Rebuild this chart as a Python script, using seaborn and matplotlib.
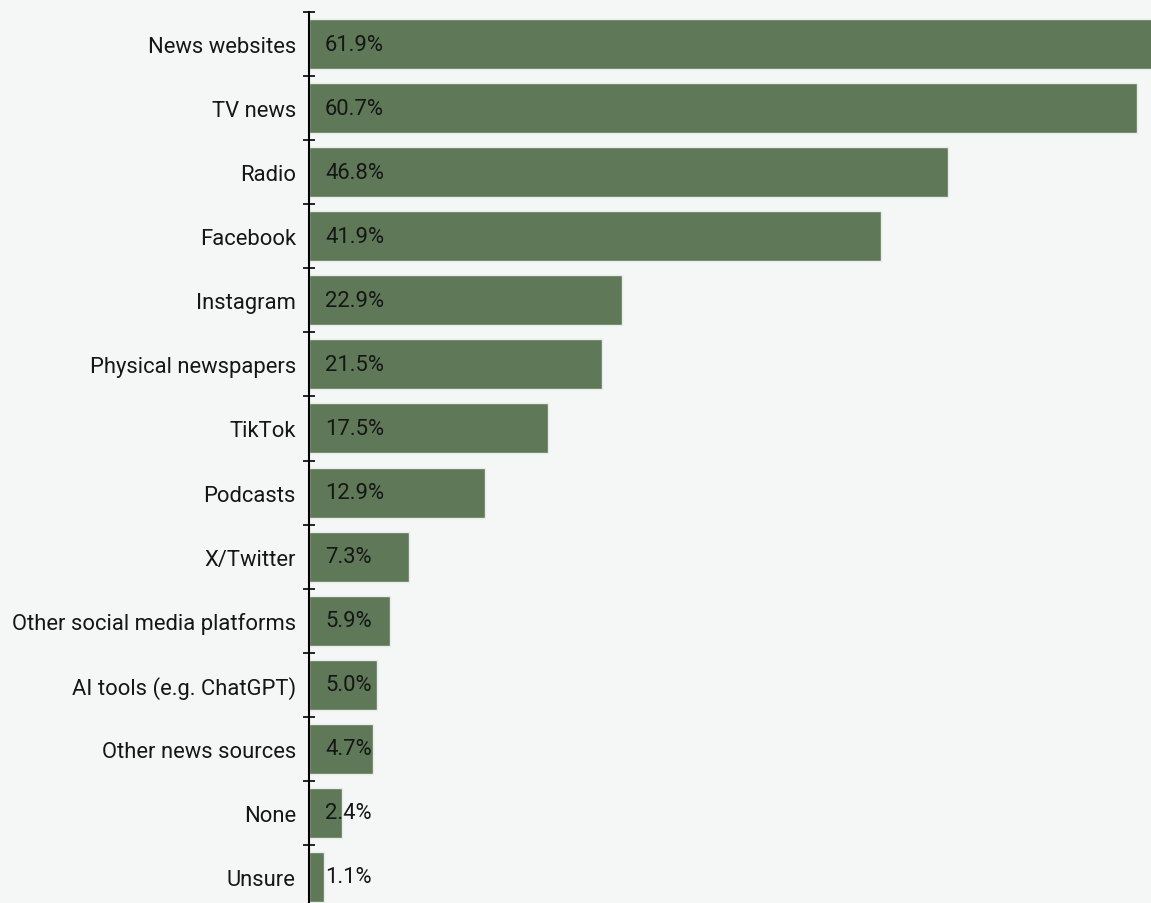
import numpy as np
import pandas as pd
import matplotlib.pyplot as plt
import seaborn as sns

# ========== Data ==========
sources = ["News websites", "TV news", "Radio", "Facebook", "Instagram",
           "Physical newspapers", "TikTok", "Podcasts", "X/Twitter",
           "Other social media platforms", "AI tools (e.g. ChatGPT)",
           "Other news sources", "None", "Unsure"]
shares = [61.9, 60.7, 46.8, 41.9, 22.9, 21.5, 17.5, 12.9, 7.3, 5.9, 5.0, 4.7, 2.4, 1.1]

df = pd.DataFrame({"source": sources, "share": shares})

# ========== Style ==========
bg = "#f5f7f6"
bar_color = "#5e7858"
sns.set_theme(style="white")
plt.rcParams['font.family'] = ['Roboto', 'DejaVu Sans']

fig = plt.figure(figsize=(11.51, 9.04), dpi=100, facecolor=bg)
ax = fig.add_axes([309 / 1151, 0.0, 1 - 309 / 1151, 1 - 13 / 904])
ax.set_facecolor(bg)

sns.barplot(data=df, x="share", y="source", orient="h", color=bar_color,
            saturation=1, width=0.78, edgecolor="#e6ece6", linewidth=1, ax=ax)

# value labels just inside the bar base
for i, v in enumerate(df["share"]):
    ax.annotate(f"{v:.1f}%", xy=(0, i), xytext=(11.5, 0), textcoords="offset points",
                ha="left", va="center", fontsize=15.8, color="#161616")

ax.set_xlim(0, 61.7)
ax.set_ylim(len(sources) - 0.5 - 6 / 64, -0.5)

# labels at band centres, tick marks at band boundaries
ax.set_yticks(np.arange(len(sources)))
ax.set_yticklabels(sources, fontsize=15.8, color="#161616")
ax.tick_params(axis="y", which="major", length=0, pad=9.5)
ax.set_yticks(np.arange(len(sources)) - 0.5, minor=True)
ax.tick_params(axis="y", which="minor", direction="inout", length=9, width=1.2,
               color="black", left=True)
ax.set_xticks([])
ax.set_xlabel("")
ax.set_ylabel("")

for s in ["top", "right", "bottom"]:
    ax.spines[s].set_visible(False)
ax.spines["left"].set_color("black")
ax.spines["left"].set_linewidth(1.5)

fig.savefig("out.png", dpi=100, facecolor=bg)
